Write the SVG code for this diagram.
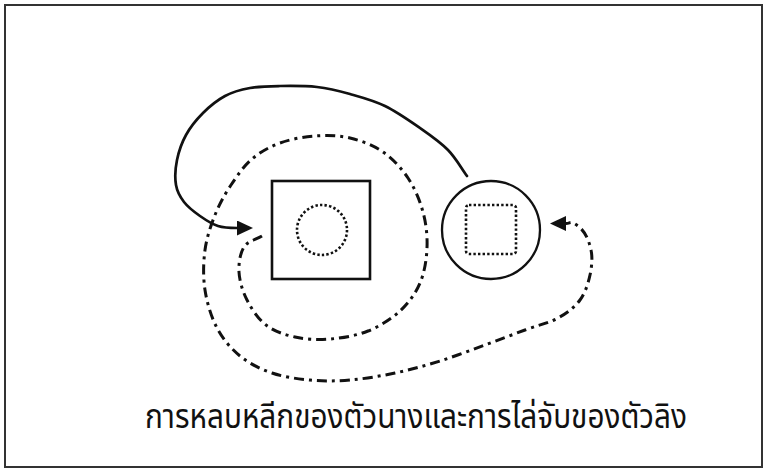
<svg xmlns="http://www.w3.org/2000/svg" width="764" height="470" viewBox="0 0 764 470">
  <style>
    .frame { fill: #ffffff; stroke: #333333; stroke-width: 2; }
    .solid { fill: none; stroke: #111111; stroke-width: 2.6; }
    .thin { fill: none; stroke: #111111; stroke-width: 2.3; }
    .dotted { fill: none; stroke: #111111; stroke-width: 2.6; stroke-dasharray: 2.4 2.2; }
    .path-solid { fill: none; stroke: #111111; stroke-width: 2.7; stroke-linecap: round; }
    .path-dashdot { fill: none; stroke: #111111; stroke-width: 3; stroke-dasharray: 10 5 3 5; }
    .caption { font-family: "Noto Sans Thai", "Noto Sans", "DejaVu Sans", sans-serif; font-size: 34px; fill: #111111; }
  </style>
  <defs>
    <marker id="arrowHead" markerUnits="userSpaceOnUse" viewBox="0 0 16 15" refX="0" refY="7.5" markerWidth="16" markerHeight="15" orient="auto">
      <path d="M0,0 L16,7.5 L0,15 Z" fill="#111111"/>
    </marker>
  </defs>

  <rect class="frame" x="5" y="5" width="757" height="462"/>

  <!-- left node: square with dotted circle -->
  <g id="node-square">
    <rect class="solid" x="272" y="181" width="98" height="98"/>
    <circle class="dotted" cx="322" cy="230" r="25"/>
  </g>

  <!-- right node: circle with dotted square -->
  <g id="node-circle">
    <circle class="thin" cx="491" cy="230" r="49"/>
    <rect class="dotted" x="466" y="205" width="50" height="49" rx="3"/>
  </g>

  <g id="connectors">
    <!-- solid arc from the circle over the top, into the square -->
    <path class="path-solid" marker-end="url(#arrowHead)"
      d="M467,176 C460.7,167.3 455.8,158 448,150 S430.5,135.3 420,128 S396.7,111.7 385,106 S361.3,97.2 350,94 S328.7,88.3 317,87 S291.2,85.8 280,86 S259.2,86.3 250,88 S232.8,91.8 225,96 S209.5,106.5 203,113 S190.3,127.2 186,135 S178.7,151.7 177,160 S174.8,178 176,185 S180,196.8 184,202 S194.3,212 200,216 S211.7,224 218,226 S230,228 237,228"/>
    <!-- dash-dot spiral around the square, ending at the circle -->
    <path class="path-dashdot" marker-end="url(#arrowHead)"
      d="M262,236 C256,239.7 247.8,241 244,247 S238.5,263.2 239,272 S242.5,291.2 247,300 S258,318.8 266,325 S284.3,334.7 295,337 S317.8,340 330,339 S356.3,335.7 368,331 S391.3,319 400,311 S415.5,293.5 420,283 S426.5,259.8 427,248 S426.2,223.7 423,212 S414.7,188 408,178 S392.7,158.7 383,152 S361.3,140.7 350,138 S326.7,135.2 315,136 S290.5,139.2 280,143 S260.2,152 252,159 S237.2,175.7 231,185 S219.3,204.2 215,215 S206.7,237.5 205,250 S203,277 205,290 S211.2,317 217,328 S230.8,348.5 240,356 S260.3,369 272,373 S297,378.8 310,380 S335.8,381.2 350,380 S380,376.2 395,373 S425,365.7 440,361 S470.8,350.2 485,345 S512.8,334.5 525,330 S548.8,323 558,318 S574.7,307.2 580,300 S588.2,283.3 590,275 S592.7,257.8 591,250 S586,232 578,226 S571,223.5 566,223.5"/>
  </g>

  <text class="caption" x="145" y="428" textLength="542" lengthAdjust="spacingAndGlyphs">การหลบหลีกของตัวนางและการไล่จับของตัวลิง</text>
</svg>
